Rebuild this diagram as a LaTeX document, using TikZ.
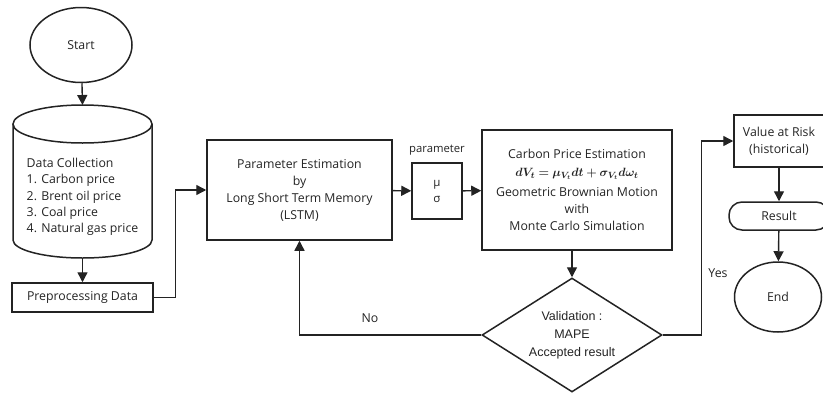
\documentclass[tikz,border=0pt]{standalone}
\usepackage{amsmath, amssymb, bm}
\usepackage{fontspec}
\setmainfont{Open Sans}
\newfontfamily\arialfont{Liberation Sans}
\usetikzlibrary{shapes.geometric, arrows.meta}
\definecolor{lineGray}{RGB}{35, 35, 35}

\begin{document}
\begin{tikzpicture}[x=1pt, y=-1pt,
    font=\fontsize{12.3}{17}\selectfont,
    every node/.style={text=lineGray},
    flowbox/.style={draw=lineGray, line width=1.5pt, align=center, inner sep=0pt},
    arr/.style={draw=lineGray, line width=1.4pt, -{Triangle[length=10pt, width=10pt]}},
    cyl/.style={draw=lineGray, line width=1.5pt}]
        \useasboundingbox (0,0) rectangle (823,394);

        % Terminals
        \node[flowbox, ellipse, minimum width=102, minimum height=75] (start) at (81,45) {Start};
        \node[flowbox, ellipse, minimum width=87, minimum height=70] (end) at (778,297) {End};

        % Data store
        \draw[cyl] (13,124) -- (13,240) arc[start angle=180, end angle=360, x radius=69.5pt, y radius=18pt] -- (152,124);
        \draw[cyl] (82.5,124) ellipse[x radius=69.5pt, y radius=19pt];
        \coordinate (datatop) at (82.5,105);
        \coordinate (databot) at (82.5,258);
        \node[align=left, font=\fontsize{12.3}{16.3}\selectfont] (data) at (82.5,197)
              {Data Collection\\1. Carbon price\\2. Brent oil price\\3. Coal price\\4. Natural gas price};
        \node[flowbox, minimum width=141, minimum height=29] (prep) at (82.5,297.5) {Preprocessing Data};

        % Estimation steps
        \node[flowbox, minimum width=185, minimum height=100] (lstm) at (299.5,190)
              {Parameter Estimation\\by\\Long Short Term Memory\\(LSTM)};
        \node[flowbox, minimum width=50, minimum height=56,
              font=\fontsize{11.5}{16}\selectfont] (param) at (437,191) {μ\\σ};
        \node[font=\fontsize{11.3}{13}\selectfont] (paramlbl) at (437,150) {parameter};
        \node[flowbox, minimum width=190, minimum height=120] (cpe) at (577,190)
              {Carbon Price Estimation\\[1pt]
               {\fontsize{12.8}{14}\selectfont$\bm{dV_t = \mu_{V_t}dt + \sigma_{V_t}d\omega_t}$}\\[3pt]
               Geometric Brownian Motion\\with\\Monte Carlo Simulation};

        % Validation
        \node[flowbox, diamond, minimum width=180, minimum height=114, shape aspect=1.58,
              font=\arialfont\fontsize{12.5}{18}\selectfont] (valid) at (572,335)
              {Validation :\\MAPE\\Accepted result};

        % Risk and result
        \node[flowbox, minimum width=90, minimum height=52] (var) at (779,141) {Value at Risk\\(historical)};
        \node[flowbox, rounded corners=13pt, minimum width=100, minimum height=28] (res) at (779,216) {Result};

        % Arrows
        \draw[arr] (start) -- (datatop);
        \draw[arr] (databot) -- (prep);
        \draw[arr] (prep.east) -- ++(22,0) |- (lstm.west);
        \draw[arr] (lstm) -- (param);
        \draw[arr] (param) -- (cpe);
        \draw[arr] (valid.north |- cpe.south) -- (valid.north);
        \draw[arr] (valid.west) -| (lstm.south);
        \draw[arr] (valid.east) -- ++(39,0) |- (var.west);
        \draw[arr] (var) -- (res);
        \draw[arr] (res) -- (end);

        % Branch labels
        \node (no) at (370,318) {No};
        \node (yes) at (718,273) {Yes};
\end{tikzpicture}
\end{document}
